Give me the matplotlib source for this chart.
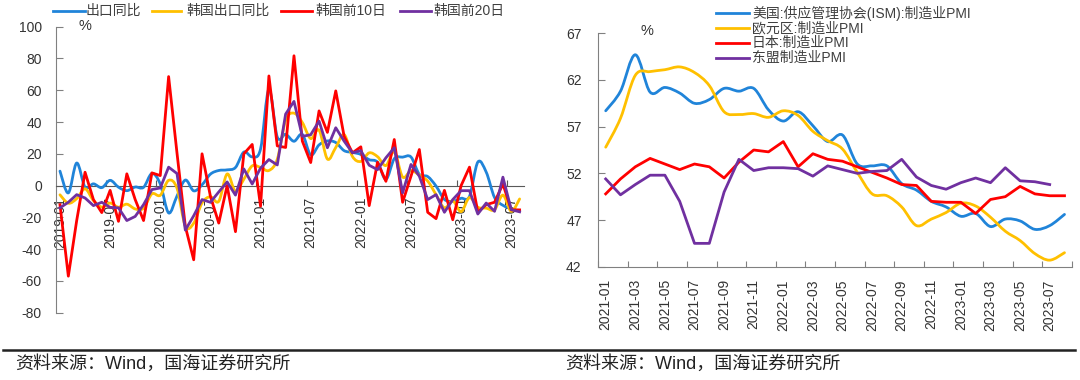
import numpy as np
import pandas as pd
import matplotlib
matplotlib.use("Agg")
import matplotlib.pyplot as plt
from matplotlib.path import Path
from matplotlib.patches import PathPatch
from matplotlib.lines import Line2D

plt.rcParams['font.family'] = ['Liberation Sans', 'Noto Sans CJK SC', 'DejaVu Sans']
plt.rcParams['axes.unicode_minus'] = False

# ---- left panel: export yoy (%), 2019-01 .. 2023-08
months_l = pd.period_range('2019-01', '2023-08', freq='M').strftime('%Y-%m').tolist()

cn_export = [9.1, -4.6, 14.2, -1.0, 1.1, -1.3, 3.3, -1.0, -3.2, -0.9, -1.1, 7.6,
             1.0, -17.2, -6.6, 3.5, -3.3, 0.5, 7.2, 9.5, 9.9, 11.4, 21.1, 18.1,
             23.0, 60.6, 30.6, 32.3, 27.9, 32.2, 19.3, 25.6, 28.1, 27.1, 22.0, 20.9,
             19.6, 16.3, 14.7, 3.9, 16.9, 17.9, 18.0, 7.1, 5.7, -0.3, -8.7, -9.9,
             -8.0, -6.8, 14.8, 8.5, -7.5, -12.4, -14.5]
kr_export = [-5.8, -11.1, -8.2, -2.0, -9.4, -13.5, -11.0, -13.6, -11.7, -14.7, -14.3, -5.2,
             -6.1, 3.3, -1.6, -25.5, -23.7, -10.9, -7.0, -9.9, 7.3, -3.6, 4.0, 12.4,
             11.4, 9.5, 16.6, 41.1, 45.6, 39.7, 29.6, 34.9, 16.7, 24.0, 32.1, 18.3,
             15.2, 20.6, 18.2, 12.6, 21.3, 5.4, 9.4, 6.6, 2.8, -5.7, -14.0, -9.6,
             -16.4, -7.5, -13.6, -14.2, -15.2, -6.0, -16.2, -8.4]
kr_10d = [-12, -57, -22, 8.4, -8.8, -17, -3, -22.5, 7.4, -8.8, -22, 8,
          6.3, 68.6, 20.6, -25.7, -46.7, 20, -6.7, -23.6, 0, -29, 20, 25.9,
          -13, 69, 25, 24, 81.7, 28, 14.5, 47, 33.5, 59.6, 31, 20.6,
          24.4, -12.6, 14.7, 2.7, 29, -10.5, 5.9, 22.7, -16.8, -20.8, -3, -21.5,
          0, 11.6, -16.8, -12, -10.5, 1, -15.2, -15.3]
kr_20d = [-14, -10.5, -5.7, -7.8, -12.6, -10.5, -13.7, -14, -22, -19.4, -12, -2.5,
          -1.5, 11.6, 7.6, -28, -19, -8.8, -10.5, -4, 2.3, -6, 10.5, 1,
          11, 16.4, 13, 45, 53, 31, 32, 40.6, 23.8, 36.4, 28, 20.6,
          22, 12.8, 10, 17.5, 23.8, -4.6, 13.3, 5.9, -8.8, -5.7, -16.8, -8.8,
          -3.2, -3.2, -17.9, -11, -16.2, 5.3, -15.2, -16.5]
names_l = ['出口同比', '韩国出口同比', '韩国前10日', '韩国前20日']

# ---- right panel: manufacturing PMI, 2021-01 .. 2023-08
months_r = pd.period_range('2021-01', '2023-08', freq='M').strftime('%Y-%m').tolist()

us_pmi = [58.7, 60.8, 64.7, 60.7, 61.2, 60.6, 59.5, 59.9, 61.1, 60.8, 61.1, 58.8,
          57.6, 58.6, 57.1, 55.4, 56.1, 53.0, 52.8, 52.8, 50.9, 50.2, 49.0, 48.4,
          47.4, 47.7, 46.3, 47.1, 46.9, 46.0, 46.4, 47.6]
eu_pmi = [54.8, 57.9, 62.5, 62.9, 63.1, 63.4, 62.8, 61.4, 58.6, 58.3, 58.4, 58.0,
          58.7, 58.2, 56.5, 55.5, 54.6, 52.1, 49.8, 49.6, 48.4, 46.4, 47.1, 47.8,
          48.8, 48.5, 47.3, 45.8, 44.8, 43.4, 42.7, 43.5]
jp_pmi = [49.8, 51.4, 52.7, 53.6, 53.0, 52.4, 53.0, 52.7, 51.5, 53.2, 54.5, 54.3,
          55.4, 52.7, 54.1, 53.5, 53.3, 52.7, 52.1, 51.5, 50.8, 50.7, 49.0, 48.9,
          48.9, 47.7, 49.2, 49.5, 50.6, 49.8, 49.6, 49.6]
asean_pmi = [51.4, 49.7, 50.8, 51.8, 51.8, 49.0, 44.5, 44.5, 50.0, 53.5, 52.3, 52.6,
             52.6, 52.5, 51.7, 52.8, 52.4, 52.0, 52.2, 52.3, 53.5, 51.6, 50.7, 50.3,
             51.0, 51.5, 51.0, 52.6, 51.2, 51.1, 50.8]
names_r = ['美国:供应管理协会(ISM):制造业PMI', '欧元区:制造业PMI', '日本:制造业PMI', '东盟制造业PMI']

colors = ['#2084D9', '#FFC000', '#FF0000', '#7030A0']
source = '资料来源：Wind，国海证券研究所'

W, H = 1080, 380


def smooth_path(x, y):
    # smoothed line like the spreadsheet "smooth line" option (bezier segments)
    x = np.asarray(x, float)
    y = np.asarray(y, float)
    n = len(x)
    verts = [(x[0], y[0])]
    codes = [Path.MOVETO]
    for i in range(n - 1):
        xa, ya = (x[i - 1], y[i - 1]) if i > 0 else (x[i], y[i])
        xd, yd = (x[i + 2], y[i + 2]) if i + 2 < n else (x[i + 1], y[i + 1])
        c1 = (x[i] + (x[i + 1] - xa) / 6, y[i] + (y[i + 1] - ya) / 6)
        c2 = (x[i + 1] - (xd - x[i]) / 6, y[i + 1] - (yd - y[i]) / 6)
        verts += [c1, c2, (x[i + 1], y[i + 1])]
        codes += [Path.CURVE4] * 3
    return Path(verts, codes)


def draw_series(ax, values, color, smooth):
    xs = np.arange(len(values))
    if smooth:
        ax.add_patch(PathPatch(smooth_path(xs, values), fill=False, edgecolor=color,
                               lw=2.0, joinstyle='round', capstyle='round', zorder=3))
    else:
        ax.plot(xs, values, color=color, lw=2.0, solid_joinstyle='round', zorder=3)


fig = plt.figure(figsize=(W / 100, H / 100), dpi=100)

# ---------------- left chart
ax1 = fig.add_axes([55.8 / W, 1 - 312.7 / H, 468 / W, 286 / H])
draw_series(ax1, cn_export, colors[0], True)
draw_series(ax1, kr_export, colors[1], True)
draw_series(ax1, kr_10d, colors[2], False)
draw_series(ax1, kr_20d, colors[3], False)

ax1.set_xlim(-0.5, len(months_l) - 0.5)
ax1.set_ylim(-80, 100)
ax1.set_yticks(np.arange(-80, 101, 20))
for s in ['top', 'right']:
    ax1.spines[s].set_visible(False)
ax1.spines['left'].set_color('#808080')
ax1.spines['bottom'].set_position(('data', 0))
ax1.spines['bottom'].set_color('#595959')
ax1.set_xticks(np.arange(5.5, len(months_l), 6))
ax1.set_xticklabels([])
ax1.set_xticks(np.arange(0, len(months_l), 6), [months_l[i] for i in range(0, len(months_l), 6)], minor=True)
ax1.tick_params(axis='x', which='major', direction='in', length=4, color='#595959')
ax1.tick_params(axis='x', which='minor', length=0, pad=8, labelrotation=90, labelsize=10, labelcolor='#333333')
ax1.tick_params(axis='y', direction='in', length=5, pad=10, labelsize=10, color='#808080', labelcolor='#333333')

# ---------------- right chart
ax2 = fig.add_axes([598.3 / W, 1 - 266.7 / H, 473.6 / W, 233.4 / H])
draw_series(ax2, us_pmi, colors[0], True)
draw_series(ax2, eu_pmi, colors[1], True)
draw_series(ax2, jp_pmi, colors[2], False)
draw_series(ax2, asean_pmi, colors[3], False)

ax2.set_xlim(-0.5, len(months_r) - 0.5)
ax2.set_ylim(42, 67)
ax2.set_yticks(np.arange(42, 68, 5))
for s in ['top', 'right']:
    ax2.spines[s].set_visible(False)
for s in ['left', 'bottom']:
    ax2.spines[s].set_color('#808080')
ax2.set_xticks(np.arange(-0.5, len(months_r), 2))
ax2.set_xticklabels([])
ax2.set_xticks(np.arange(0, len(months_r), 2), [months_r[i] for i in range(0, len(months_r), 2)], minor=True)
ax2.tick_params(axis='x', which='major', direction='in', length=4, color='#808080')
ax2.tick_params(axis='x', which='minor', length=0, pad=9, labelrotation=90, labelsize=10, labelcolor='#333333')
ax2.tick_params(axis='y', direction='in', length=5, pad=12, labelsize=10, color='#808080', labelcolor='#333333')

# ---------------- legends, units
leg_l = [(53, 84.5, 86), (152, 181, 186), (281, 312, 315.5), (400, 431, 433)]
for (x0, x1, xt), name, c in zip(leg_l, names_l, colors):
    fig.add_artist(Line2D([x0 / W, x1 / W], [1 - 10.5 / H] * 2, color=c, lw=2.0, transform=fig.transFigure))
    fig.text(xt / W, 1 - 10.5 / H, name, fontsize=10, color='#404040', va='center', ha='left')

for k, (name, c) in enumerate(zip(names_r, colors)):
    yy = 1 - (13 + 15 * k) / H
    fig.add_artist(Line2D([716 / W, 749 / W], [yy, yy], color=c, lw=2.0, transform=fig.transFigure))
    fig.text(752 / W, yy, name, fontsize=10, color='#404040', va='center', ha='left')

fig.text(85 / W, 1 - 26 / H, '%', fontsize=10.5, color='#333333', ha='center', va='center')
fig.text(647 / W, 1 - 31 / H, '%', fontsize=10.5, color='#333333', ha='center', va='center')

# ---------------- footer
fig.add_artist(Line2D([3 / W, 1075 / W], [1 - 350 / H] * 2, color='#222222', lw=1.8, transform=fig.transFigure))
fig.text(15 / W, 1 - 364 / H, source, fontsize=13, color='#222222', va='center', ha='left')
fig.text(565 / W, 1 - 364 / H, source, fontsize=13, color='#222222', va='center', ha='left')

fig.savefig('out.png', dpi=100)
